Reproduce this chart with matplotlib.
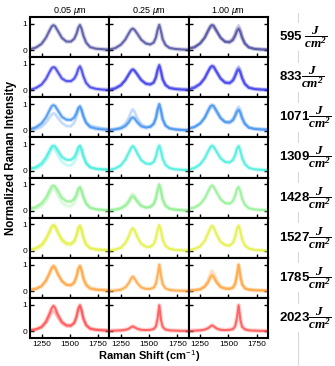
import matplotlib
matplotlib.use("Agg")
import matplotlib.pyplot as plt

plt.rcParams['font.family'] = ['Liberation Sans', 'DejaVu Sans']
plt.rcParams['mathtext.fontset'] = 'custom'
plt.rcParams['mathtext.rm'] = 'Liberation Sans'
plt.rcParams['mathtext.it'] = 'Liberation Sans:italic'
plt.rcParams['mathtext.bf'] = 'Liberation Sans:bold'
plt.rcParams['mathtext.bfit'] = 'Liberation Serif:italic:bold'

# Raman shift sampling (cm^-1)
shift = [1150, 1200, 1250, 1290, 1320, 1340, 1355, 1370, 1395, 1430, 1470, 1510,
         1540, 1560, 1575, 1590, 1605, 1620, 1645, 1680, 1730, 1790, 1850]

thickness = ["0.05 $\\mu$m", "0.25 $\\mu$m", "1.00 $\\mu$m"]
fluence = ["595 ", "833", "1071", "1309", "1428", "1527", "1785", "2023"]
row_colors = ['#4a4a9e', '#3a3aea', '#4090f0', '#40eedc', '#90f090', '#e2f03c', '#ffa43c', '#ff4c4c']

# main spectra per fluence: [0.05 um, 0.25 um, 1.00 um]
r595 = [
    [0.04,0.10,0.24,0.48,0.74,0.90,0.95,0.91,0.73,0.47,0.33,0.33,0.44,0.63,0.85,0.955,0.81,0.56,0.29,0.12,0.06,0.04,0.02],
    [0.03,0.08,0.21,0.41,0.64,0.78,0.82,0.78,0.63,0.40,0.26,0.22,0.29,0.48,0.77,0.96,0.72,0.42,0.20,0.09,0.05,0.03,0.02],
    [0.06,0.11,0.26,0.48,0.75,0.91,0.96,0.93,0.74,0.48,0.32,0.30,0.39,0.55,0.72,0.81,0.69,0.48,0.25,0.11,0.05,0.03,0.02]]
r833 = [
    [0.02,0.09,0.22,0.44,0.69,0.84,0.88,0.86,0.69,0.45,0.35,0.35,0.45,0.61,0.81,0.91,0.77,0.54,0.28,0.12,0.06,0.03,0.02],
    [0.02,0.07,0.19,0.39,0.61,0.75,0.80,0.76,0.61,0.39,0.25,0.22,0.29,0.49,0.78,0.96,0.73,0.42,0.20,0.09,0.05,0.03,0.02],
    [0.04,0.10,0.24,0.46,0.72,0.88,0.93,0.90,0.71,0.45,0.29,0.27,0.37,0.54,0.71,0.80,0.68,0.47,0.24,0.10,0.05,0.03,0.02]]
r1071 = [
    [0.05,0.12,0.27,0.50,0.76,0.92,0.96,0.93,0.76,0.52,0.41,0.40,0.50,0.67,0.85,0.92,0.78,0.55,0.29,0.13,0.07,0.04,0.03],
    [0.02,0.04,0.08,0.17,0.31,0.45,0.50,0.46,0.31,0.16,0.11,0.14,0.25,0.47,0.79,1.00,0.76,0.43,0.19,0.08,0.04,0.02,0.01],
    [0.08,0.13,0.27,0.49,0.76,0.92,0.96,0.93,0.74,0.48,0.32,0.30,0.39,0.55,0.70,0.78,0.67,0.47,0.25,0.11,0.06,0.04,0.03]]
r1309 = [
    [0.08,0.13,0.27,0.50,0.75,0.91,0.95,0.92,0.76,0.52,0.41,0.41,0.51,0.69,0.88,0.95,0.80,0.56,0.29,0.13,0.07,0.05,0.04],
    [0.03,0.08,0.20,0.42,0.68,0.86,0.93,0.87,0.66,0.40,0.27,0.25,0.33,0.53,0.80,0.95,0.75,0.45,0.22,0.10,0.05,0.03,0.02],
    [0.05,0.10,0.24,0.47,0.73,0.89,0.95,0.90,0.72,0.47,0.33,0.31,0.41,0.60,0.83,0.93,0.76,0.50,0.25,0.11,0.05,0.03,0.02]]
r1428 = [
    [0.09,0.14,0.28,0.50,0.76,0.92,0.96,0.92,0.75,0.49,0.36,0.35,0.45,0.63,0.83,0.90,0.76,0.53,0.28,0.12,0.06,0.03,0.01],
    [0.02,0.04,0.09,0.19,0.34,0.49,0.55,0.50,0.34,0.18,0.12,0.14,0.25,0.47,0.79,1.00,0.76,0.43,0.19,0.08,0.04,0.02,0.01],
    [0.08,0.12,0.25,0.47,0.73,0.90,0.96,0.90,0.70,0.44,0.29,0.27,0.37,0.58,0.82,0.90,0.73,0.47,0.23,0.10,0.05,0.03,0.02]]
r1527 = [
    [0.04,0.10,0.23,0.47,0.74,0.92,0.98,0.93,0.71,0.44,0.29,0.27,0.38,0.60,0.86,0.96,0.79,0.50,0.24,0.10,0.05,0.03,0.02],
    [0.02,0.05,0.12,0.30,0.55,0.77,0.86,0.79,0.53,0.27,0.16,0.15,0.26,0.48,0.80,0.98,0.76,0.43,0.19,0.08,0.04,0.02,0.01],
    [0.03,0.07,0.17,0.38,0.66,0.87,0.96,0.88,0.62,0.35,0.22,0.20,0.31,0.53,0.83,0.96,0.76,0.45,0.21,0.09,0.04,0.02,0.01]]
r1785 = [
    [0.04,0.08,0.18,0.40,0.68,0.88,0.96,0.89,0.64,0.37,0.23,0.21,0.32,0.55,0.84,0.96,0.77,0.47,0.22,0.09,0.05,0.03,0.02],
    [0.01,0.02,0.05,0.14,0.30,0.47,0.55,0.48,0.30,0.14,0.08,0.08,0.13,0.28,0.60,1.00,0.57,0.26,0.10,0.04,0.02,0.01,0.01],
    [0.02,0.03,0.06,0.16,0.33,0.51,0.60,0.52,0.32,0.15,0.09,0.08,0.13,0.28,0.60,1.00,0.57,0.26,0.10,0.05,0.03,0.02,0.02]]
r2023 = [
    [0.03,0.07,0.16,0.37,0.66,0.87,0.96,0.88,0.62,0.35,0.22,0.21,0.32,0.56,0.85,0.98,0.78,0.47,0.22,0.09,0.05,0.03,0.02],
    [0.01,0.02,0.03,0.05,0.09,0.15,0.18,0.15,0.09,0.05,0.04,0.05,0.08,0.18,0.48,0.98,0.42,0.16,0.06,0.03,0.02,0.01,0.01],
    [0.01,0.02,0.03,0.06,0.11,0.18,0.22,0.18,0.10,0.05,0.04,0.05,0.08,0.19,0.50,0.98,0.44,0.17,0.07,0.03,0.02,0.01,0.01]]

# secondary (lighter) spectra showing spot-to-spot spread; None where not visible
r595_alt = [None, None,
    [0.08,0.13,0.27,0.47,0.70,0.85,0.90,0.86,0.70,0.47,0.34,0.34,0.45,0.64,0.84,0.94,0.80,0.55,0.28,0.12,0.06,0.04,0.03]]
r833_alt = [None,
    [0.05,0.10,0.22,0.40,0.60,0.72,0.76,0.73,0.60,0.40,0.28,0.25,0.32,0.50,0.75,0.90,0.70,0.42,0.22,0.11,0.07,0.05,0.04],
    [0.08,0.14,0.27,0.47,0.70,0.84,0.88,0.85,0.69,0.46,0.32,0.31,0.42,0.62,0.82,0.90,0.77,0.53,0.27,0.12,0.06,0.04,0.03]]
r1071_alt = [
    [0.01,0.05,0.14,0.30,0.48,0.60,0.65,0.62,0.48,0.29,0.17,0.16,0.30,0.52,0.76,0.86,0.75,0.52,0.30,0.18,0.14,0.08,0.04],
    [0.03,0.06,0.12,0.26,0.48,0.70,0.80,0.72,0.48,0.24,0.14,0.15,0.26,0.48,0.78,0.97,0.74,0.42,0.19,0.09,0.05,0.03,0.02],
    [0.09,0.14,0.27,0.47,0.71,0.86,0.90,0.87,0.70,0.46,0.33,0.33,0.44,0.63,0.82,0.90,0.78,0.54,0.28,0.12,0.07,0.05,0.04]]
r1309_alt = [
    [0.03,0.07,0.18,0.38,0.62,0.80,0.86,0.80,0.58,0.33,0.21,0.20,0.31,0.52,0.78,0.90,0.76,0.52,0.27,0.12,0.06,0.04,0.03],
    None, None]
r1428_alt = [
    [0.03,0.07,0.17,0.36,0.60,0.78,0.85,0.79,0.57,0.31,0.18,0.17,0.28,0.49,0.74,0.86,0.72,0.49,0.25,0.11,0.05,0.03,0.02],
    [0.03,0.05,0.11,0.23,0.40,0.58,0.65,0.59,0.40,0.21,0.13,0.15,0.26,0.47,0.78,0.97,0.74,0.42,0.19,0.09,0.05,0.03,0.02],
    None]
r1527_alt = [
    [0.02,0.06,0.16,0.38,0.66,0.88,0.96,0.90,0.64,0.36,0.22,0.21,0.33,0.56,0.84,0.95,0.80,0.52,0.26,0.12,0.07,0.05,0.03],
    None, None]
r1785_alt = [
    [0.06,0.10,0.20,0.40,0.64,0.82,0.90,0.85,0.64,0.39,0.26,0.24,0.35,0.57,0.84,0.94,0.80,0.52,0.27,0.14,0.08,0.05,0.03],
    None,
    [0.03,0.04,0.08,0.20,0.42,0.66,0.78,0.68,0.42,0.19,0.11,0.10,0.14,0.29,0.60,0.98,0.57,0.27,0.11,0.06,0.04,0.03,0.02]]
r2023_alt = [
    [0.03,0.06,0.13,0.30,0.53,0.69,0.75,0.70,0.50,0.29,0.19,0.19,0.30,0.53,0.82,0.95,0.78,0.50,0.25,0.11,0.06,0.04,0.03],
    None, None]

rows_main = [r595, r833, r1071, r1309, r1428, r1527, r1785, r2023]
rows_alt = [r595_alt, r833_alt, r1071_alt, r1309_alt, r1428_alt, r1527_alt, r1785_alt, r2023_alt]

fig = plt.figure(figsize=(3.35, 3.66), dpi=100)
L, R, B, T = 30/335, 268/335, 1-338/366, 1-17/366
gs = fig.add_gridspec(8, 3, left=L, right=R, bottom=B, top=T, wspace=0, hspace=0)

for i in range(8):
    for j in range(3):
        ax = fig.add_subplot(gs[i, j])
        c = row_colors[i]
        alt = rows_alt[i][j]
        if alt is not None:
            ax.plot(shift, alt, color=c, lw=2.0, alpha=0.3, solid_joinstyle='round')
        ax.plot(shift, rows_main[i][j], color=c, lw=3.2, alpha=0.25, solid_joinstyle='round')
        ax.plot(shift, rows_main[i][j], color=c, lw=1.5, alpha=0.8, solid_joinstyle='round')
        ax.set_xlim(1148, 1850)
        ax.set_ylim(-0.26, 1.26)
        ax.set_xticks([1250, 1500, 1750])
        ax.set_yticks([0, 1])
        ax.tick_params(direction='in', length=3, width=1, right=True, labelsize=6, pad=2)
        for s in ax.spines.values():
            s.set_linewidth(1.5)
        if j != 0:
            ax.tick_params(labelleft=False)
        if i != 7:
            ax.tick_params(labelbottom=False)
        if i == 0:
            ax.set_title(thickness[j], fontsize=6.5, pad=2)

# separator line and fluence labels
fig.add_artist(plt.Line2D([298/335, 298/335], [0, 1-13/366], transform=fig.transFigure,
                          color='#d9d9d9', lw=0.8, zorder=0))
row_h = (T - B) / 8
for i, f in enumerate(fluence):
    yc = T - (i + 0.5) * row_h
    fig.text(279/335, yc, f + r'$\mathbfit{\dfrac{J}{cm^2}}$', fontsize=9.5, fontweight='bold',
             va='center', ha='left', zorder=2,
             bbox=dict(facecolor='white', edgecolor='none', pad=1.0))

fig.text(0.033, 1 - 158/366, 'Normalized Raman Intensity', rotation=90, fontsize=8.3,
         fontweight='bold', va='center', ha='center')
fig.text((L + R) / 2, 1 - 356/366, 'Raman Shift (cm$^{-1}$)', fontsize=8.0, fontweight='bold',
         va='center', ha='center')

fig.savefig('out.png', dpi=100)
